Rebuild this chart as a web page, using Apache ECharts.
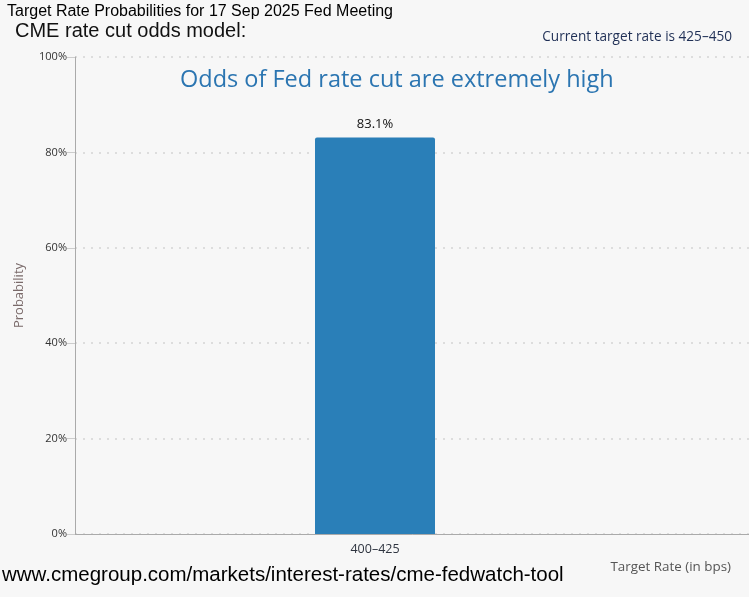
<!DOCTYPE html>
<html>
<head>
<meta charset="utf-8">
<script src="https://cdn.jsdelivr.net/npm/echarts@6/dist/echarts.min.js"></script>
<style>
  html, body { margin: 0; padding: 0; background: #f7f7f7; }
  #main { width: 749px; height: 597px; }
</style>
</head>
<body>
<div id="main"></div>
<script>
var categories = ['400\u2013425'];
var probabilities = [83.1];
var yTicks = [0, 20, 40, 60, 80, 100];

var chart = echarts.init(document.getElementById('main'));

var font = '"Open Sans", "DejaVu Sans", sans-serif';

var option = {
  backgroundColor: '#f7f7f7',
  animation: false,
  grid: { left: 75, top: 57, width: 1200, height: 477, outerBoundsMode: 'none', containLabel: false },
  graphic: [
    { type: 'text', left: 7, top: 4, style: { text: 'Target Rate Probabilities for 17 Sep 2025 Fed Meeting', font: '16px "Liberation Sans", Arial, sans-serif', fill: '#000' } },
    { type: 'text', left: 15, top: 21, style: { text: 'CME rate cut odds model:', font: '20px "Liberation Sans", Arial, sans-serif', fill: '#111' } },
    { type: 'text', right: 17, top: 30, style: { text: 'Current target rate is 425\u2013450', font: '13.6px ' + font, fill: '#1f2f55' } },
    { type: 'text', left: 180, top: 68, style: { text: 'Odds of Fed rate cut are extremely high', font: '23.5px ' + font, fill: '#2b75b1' }, z: 10 },
    { type: 'text', left: 2, top: 565, style: { text: 'www.cmegroup.com/markets/interest-rates/cme-fedwatch-tool', font: '20.5px "Liberation Sans", Arial, sans-serif', fill: '#000' } },
    { type: 'text', right: 18, top: 561, style: { text: 'Target Rate (in bps)', font: '13.4px ' + font, fill: '#555' } }
  ],
  xAxis: {
    type: 'category',
    data: categories.concat(['']),
    axisLine: { lineStyle: { color: '#aaa', width: 1 } },
    axisTick: { alignWithLabel: true, length: 6, lineStyle: { color: '#ccc' } },
    axisLabel: { color: '#2f3540', fontSize: 12.5, fontFamily: font, margin: 9 }
  },
  yAxis: {
    type: 'value',
    min: yTicks[0],
    max: yTicks[yTicks.length - 1],
    interval: 20,
    name: 'Probability',
    nameLocation: 'middle',
    nameGap: 49,
    nameTextStyle: { color: '#7a6a6a', fontSize: 13, fontFamily: font },
    axisLine: { show: true, lineStyle: { color: '#aaa' } },
    axisTick: { show: true, length: 8, lineStyle: { color: '#ccc' } },
    axisLabel: { color: '#333', fontSize: 11, fontFamily: font, margin: 8, formatter: '{value}%' },
    splitLine: { lineStyle: { color: '#ddd', type: [2, 6], width: 2 } }
  },
  series: [{
    type: 'bar',
    data: probabilities,
    barWidth: 120,
    itemStyle: { color: '#2a7fb8', borderRadius: [2, 2, 0, 0] },
    label: { show: true, position: 'top', color: '#111', fontSize: 13, fontFamily: font, distance: 7, formatter: '{c}%' }
  }]
};

chart.setOption(option);
</script>
</body>
</html>
